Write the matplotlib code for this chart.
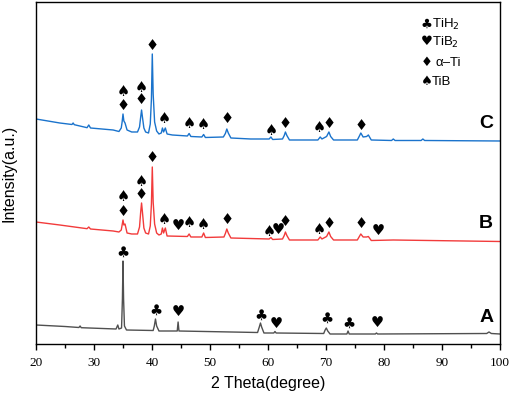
import matplotlib.pyplot as plt
from matplotlib.ticker import MultipleLocator

# XRD traces, vertices (2theta, intensity a.u.)
curve_c = [(20, 225), (24.1, 221), (26.2, 219.5), (26.4, 221), (26.6, 219.3), (28.8, 216.3), (29.1, 219),
           (29.4, 216), (33.3, 214), (34.3, 212.5), (34.7, 216), (34.85, 222), (35.0, 230), (35.15, 223),
           (35.35, 221), (35.7, 214), (36.5, 212), (37.5, 212), (37.85, 217), (38.05, 227), (38.2, 234),
           (38.35, 227), (38.6, 216), (38.9, 212), (39.4, 211), (39.7, 220), (39.9, 245), (40.05, 290),
           (40.2, 250), (40.45, 222), (40.8, 213), (41.2, 210), (41.6, 211), (41.8, 216), (42.0, 212),
           (42.3, 216), (42.6, 210), (43.5, 209), (46.1, 208), (46.4, 210.5), (46.7, 207.5), (48.6, 207),
           (48.9, 209.5), (49.2, 206.5), (52.3, 207), (52.65, 210.5), (52.9, 215), (53.15, 211), (53.6, 206),
           (57, 205), (60.2, 205), (60.5, 207), (60.8, 204.5), (62.5, 205), (62.8, 208.5), (63.0, 212),
           (63.25, 208.5), (63.7, 204), (68.6, 204), (69.0, 207), (69.3, 205), (70.1, 207.5), (70.5, 212),
           (70.8, 207.5), (71.3, 204), (75.4, 204), (75.8, 208.5), (76.0, 211), (76.4, 207), (77.0, 207.5),
           (77.3, 209), (77.8, 204), (81.3, 203.5), (81.6, 205), (81.9, 203.5), (86.4, 203.5), (86.7, 205),
           (87.0, 203.5), (100, 203)]

curve_b = [(20, 122), (24.1, 119), (28.8, 115.3), (29.1, 117), (29.4, 115), (33.3, 113), (34.3, 112),
           (34.7, 114), (34.85, 119), (35.0, 124), (35.15, 119), (35.35, 120), (35.7, 111), (36.5, 110),
           (37.5, 110), (37.85, 117), (38.05, 132), (38.2, 141), (38.35, 132), (38.6, 116), (38.9, 111),
           (39.4, 110), (39.7, 118), (39.9, 140), (40.05, 177), (40.2, 142), (40.45, 120), (40.8, 111),
           (41.2, 109), (41.6, 110), (41.8, 116), (42.0, 111), (42.3, 116), (42.6, 108), (46.1, 107.5),
           (46.4, 110), (46.7, 107), (48.6, 107), (48.9, 111), (49.2, 106.5), (52.4, 107), (52.65, 110.5),
           (52.9, 115), (53.15, 111), (53.6, 106), (60.2, 105), (60.5, 106.5), (60.8, 104.5), (62.5, 105),
           (62.8, 108.5), (63.0, 112), (63.25, 108.5), (63.7, 104), (68.6, 104), (69.0, 107), (69.3, 105),
           (70.1, 107.5), (70.5, 112), (70.8, 107.5), (71.3, 104), (75.4, 104), (75.8, 108), (76.0, 110),
           (76.4, 107), (77.0, 107), (77.3, 107.5), (77.8, 103.5), (81.6, 104), (100, 102.5)]

curve_a = [(20, 19), (25, 17.5), (27.4, 16.5), (27.6, 18), (27.8, 16.3), (33.8, 15), (34.1, 19), (34.3, 15),
           (34.75, 16), (34.9, 45), (35.0, 83), (35.1, 45), (35.25, 18), (35.6, 14), (40.2, 13.5), (40.4, 18),
           (40.6, 25), (40.8, 18), (41.2, 13), (44.35, 13), (44.5, 22), (44.65, 13), (58.2, 11.5),
           (58.5, 17), (58.7, 21), (58.9, 17), (59.3, 11), (61.0, 11), (61.2, 12.5), (61.4, 11), (69.6, 10.5),
           (69.85, 14), (70.05, 16), (70.3, 13), (70.7, 10), (73.6, 10), (73.8, 13), (74.0, 10), (78.5, 10),
           (78.7, 11), (78.9, 10), (97.7, 10.5), (98.1, 12), (98.5, 10.5), (100, 10)]

CLUB, HEART, DIAMOND, SPADE = '\u2663', '\u2665', '\u2666', '\u2660'

# phase markers (symbol, 2theta, height)
marks_c = [(SPADE, 35.0, 252), (DIAMOND, 35.0, 238), (SPADE, 38.2, 256), (DIAMOND, 38.2, 244),
           (DIAMOND, 40.05, 298), (SPADE, 42.1, 225), (SPADE, 46.4, 220), (SPADE, 48.9, 219),
           (DIAMOND, 52.9, 225), (SPADE, 60.5, 213), (DIAMOND, 63.0, 220), (SPADE, 68.9, 216),
           (DIAMOND, 70.5, 220), (DIAMOND, 76.0, 218)]
marks_b = [(SPADE, 35.0, 147), (DIAMOND, 35.0, 132), (SPADE, 38.2, 162), (DIAMOND, 38.2, 149),
           (DIAMOND, 40.05, 186), (SPADE, 42.1, 124), (HEART, 44.5, 118), (SPADE, 46.4, 121),
           (SPADE, 48.9, 119), (DIAMOND, 52.9, 124), (SPADE, 60.2, 112), (HEART, 61.7, 114),
           (DIAMOND, 63.0, 122), (SPADE, 68.8, 114), (DIAMOND, 70.5, 120), (DIAMOND, 76.1, 120),
           (HEART, 79.1, 113)]
marks_a = [(CLUB, 35.0, 92), (CLUB, 40.6, 34), (HEART, 44.5, 32), (CLUB, 58.7, 29), (HEART, 61.4, 20),
           (CLUB, 70.2, 26), (CLUB, 73.9, 21), (HEART, 78.8, 21)]

sample_labels = [('C', 220), ('B', 120), ('A', 26)]
legend_syms = [CLUB, HEART, DIAMOND, SPADE]
legend_names = ['TiH$_2$', 'TiB$_2$', '\u03b1\u2013Ti', 'TiB']
legend_y = [320, 302, 281, 262]

sans = ['Liberation Sans', 'DejaVu Sans']

fig = plt.figure(figsize=(5.12, 3.97), dpi=100)
ax = fig.add_axes([0.0703, 0.1335, 0.9063, 0.8615])

for pts, col in [(curve_a, '#505050'), (curve_b, '#f23b3b'), (curve_c, '#1a73cc')]:
    xs, ys = zip(*pts)
    ax.plot(xs, ys, color=col, lw=1.0)

for marks in (marks_c, marks_b, marks_a):
    for sym, x, y in marks:
        ax.text(x, y, sym, ha='center', va='center', fontsize=10.5, family=['DejaVu Sans'])

for lab, y in sample_labels:
    ax.text(97.6, y, lab, ha='center', va='center', fontsize=14, fontweight='bold', family=sans)

for sym, name, y in zip(legend_syms, legend_names, legend_y):
    ax.text(87.4, y, sym, ha='center', va='center', fontsize=9.5, family=['DejaVu Sans'])
    tx = 88.9 if sym == DIAMOND else 88.3
    ax.text(tx, y, name, ha='left', va='center', fontsize=9.5, family=sans)

ax.set_xlim(20, 100)
ax.set_ylim(0, 342)
ax.xaxis.set_major_locator(MultipleLocator(10))
ax.xaxis.set_minor_locator(MultipleLocator(5))
ax.tick_params(axis='x', which='major', direction='out', length=4.5, width=1, pad=5)
ax.tick_params(axis='x', which='minor', direction='out', length=3, width=1)
ax.set_yticks([])
for lbl in ax.get_xticklabels():
    lbl.set_family('Liberation Serif')
    lbl.set_fontsize(9.5)
for s in ax.spines.values():
    s.set_linewidth(1.0)

ax.set_xlabel('2 Theta(degree)', fontsize=11.5, family=sans)
ax.xaxis.set_label_coords(0.5, -0.093)
ax.set_ylabel('Intensity(a.u.)', fontsize=11.5, family=sans)
ax.yaxis.set_label_coords(-0.041, 0.5)

fig.savefig('out.png', dpi=100)
